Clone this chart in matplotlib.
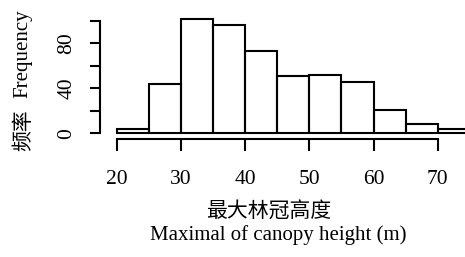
import matplotlib
matplotlib.use("Agg")
import matplotlib.pyplot as plt
import numpy as np

bin_edges = [20, 25, 30, 35, 40, 45, 50, 55, 60, 65, 70, 75]
counts = [4, 44, 102, 96, 73, 51, 52, 46, 21, 8, 4]
xticks = [20, 30, 40, 50, 60, 70]
yticks = [0, 20, 40, 60, 80, 100]
ytick_labels = ["0", "", "40", "", "80", ""]

W, H = 465, 257
fig = plt.figure(figsize=(W / 100, H / 100), dpi=100)
plt.rcParams['font.family'] = ['Liberation Serif', 'Noto Sans CJK SC', 'DejaVu Sans']

ax_left = 99.8
ax_bottom_px = 139.3
ax = fig.add_axes([ax_left / W, 1 - ax_bottom_px / H, (W - ax_left) / W, ax_bottom_px / H])

lefts = bin_edges[:-1]
widths = np.diff(bin_edges)
ax.bar(lefts, counts, width=widths, align='edge', fill=False, edgecolor='black', linewidth=1.5)

ax.set_xlim(17.35, 74.25)
ax.set_ylim(-5.34, 118.7)

for s in ['top', 'right']:
    ax.spines[s].set_visible(False)
ax.spines['left'].set_bounds(0, 100)
ax.spines['bottom'].set_bounds(20, 70)
for s in ['left', 'bottom']:
    ax.spines[s].set_linewidth(1.5)

ax.set_xticks(xticks)
ax.set_xticklabels([str(v) for v in xticks], fontsize=15.5)
ax.set_yticks(yticks)
ax.set_yticklabels(ytick_labels, fontsize=15.5, rotation=90, va='center')
ax.tick_params(axis='x', direction='out', length=8.5, width=1.5, pad=13.5)
ax.tick_params(axis='y', direction='out', length=7.5, width=1.5, pad=9.5)

fig.text(23 / W, 1 - 53.5 / H, "Frequency", rotation=90, ha='center', va='center', fontsize=15)
fig.text(23 / W, 1 - 130 / H, "频率", rotation=90, ha='center', va='center', fontsize=15,
         family=['Noto Sans CJK SC', 'DejaVu Sans'])
fig.text(268.3 / W, 1 - 212 / H, "最大林冠高度", ha='center', va='center', fontsize=15,
         family=['Noto Sans CJK SC', 'DejaVu Sans'])
fig.text(278.3 / W, 1 - 240 / H, "Maximal of canopy height (m)", ha='center', va='baseline', fontsize=15)

fig.savefig("out.png", dpi=100)
